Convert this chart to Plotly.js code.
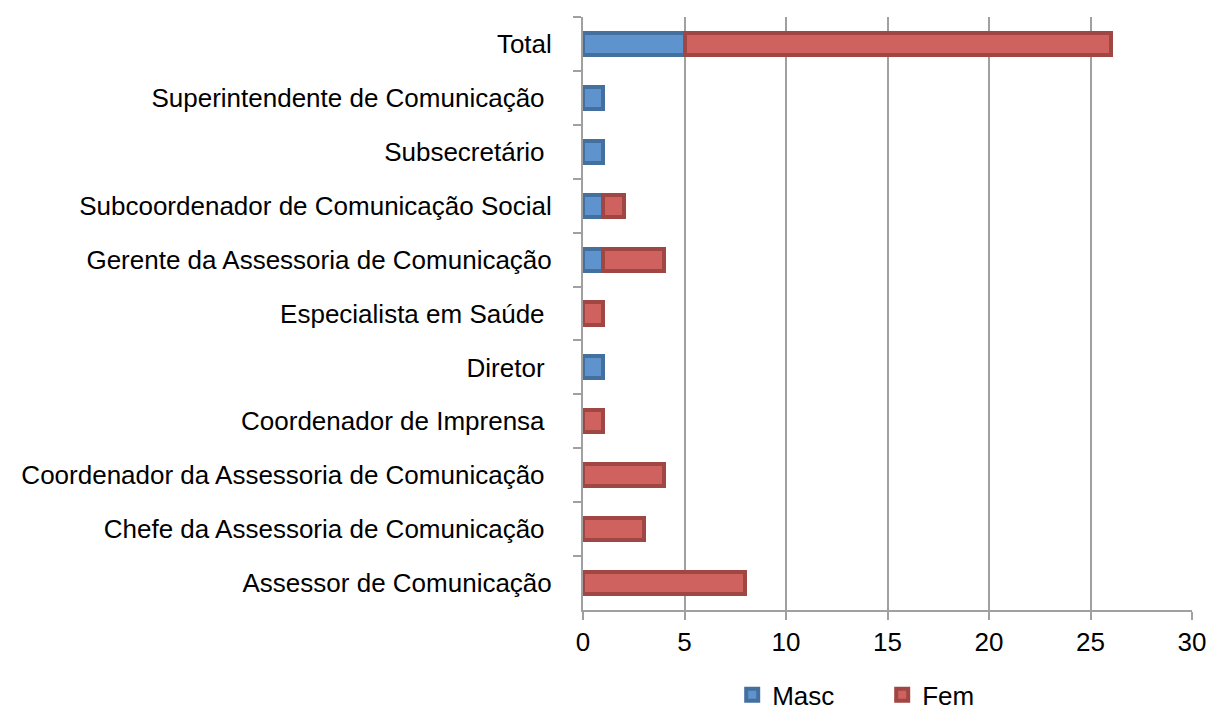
<!DOCTYPE html>
<html>
<head>
<meta charset="utf-8">
<script src="https://cdn.plot.ly/plotly-3.0.1.min.js"></script>
<style>html,body{margin:0;padding:0;background:#fff;}#chart{width:1210px;height:713px;}</style>
</head>
<body>
<div id="chart"></div>
<script>
const categories = [
  "Total",
  "Superintendente de Comunicação\u00a0",
  "Subsecretário\u00a0",
  "Subcoordenador de Comunicação Social",
  "Gerente da Assessoria de Comunicação",
  "Especialista em Saúde\u00a0",
  "Diretor\u00a0",
  "Coordenador de Imprensa\u00a0",
  "Coordenador da Assessoria de Comunicação\u00a0",
  "Chefe da Assessoria de Comunicação\u00a0",
  "Assessor de Comunicação"
];
const masc = [5, 1, 1, 1, 1, null, 1, null, null, null, null];
const fem = [21, null, null, 1, 3, 1, null, 1, 4, 3, 8];
const xTicks = [0, 5, 10, 15, 20, 25, 30];

const traces = [
  {type: 'bar', orientation: 'h', name: 'Masc', y: categories, x: masc,
   marker: {color: '#5E93CE', line: {color: '#43709F', width: 4}}},
  {type: 'bar', orientation: 'h', name: 'Fem', y: categories, x: fem,
   marker: {color: '#CF625E', line: {color: '#A04643', width: 4}}}
];

const layout = {
  width: 1210, height: 713,
  margin: {l: 583, r: 18, t: 17, b: 103, autoexpand: false},
  paper_bgcolor: '#fff', plot_bgcolor: '#fff',
  font: {family: 'Liberation Sans, Arial, sans-serif', size: 26, color: '#000'},
  barmode: 'stack', bargap: 0.59,
  showlegend: true,
  legend: {orientation: 'h', x: 0.245, xanchor: 'left', y: -0.143, yanchor: 'middle',
           traceorder: 'normal', font: {size: 26}, itemwidth: 30, entrywidth: 105},
  xaxis: {range: [0, 30], tickvals: xTicks, ticktext: xTicks.map(String),
          showgrid: true, gridcolor: '#A0A0A0', gridwidth: 2,
          zeroline: false, showline: true, linecolor: '#A0A0A0', linewidth: 2,
          ticks: 'outside', ticklen: 8, tickwidth: 2, tickcolor: '#A0A0A0',
          tickfont: {size: 26}, fixedrange: true},
  yaxis: {type: 'category', autorange: 'reversed', categoryorder: 'array', categoryarray: categories,
          showgrid: false, zeroline: false, showline: true, linecolor: '#A0A0A0', linewidth: 2,
          ticks: 'outside', tickson: 'boundaries', ticklen: 8, tickwidth: 2, tickcolor: '#A0A0A0',
          ticklabelstandoff: 24, tickfont: {size: 26}, fixedrange: true}
};

Plotly.newPlot('chart', traces, layout, {displayModeBar: false, staticPlot: true});
</script>
</body>
</html>
